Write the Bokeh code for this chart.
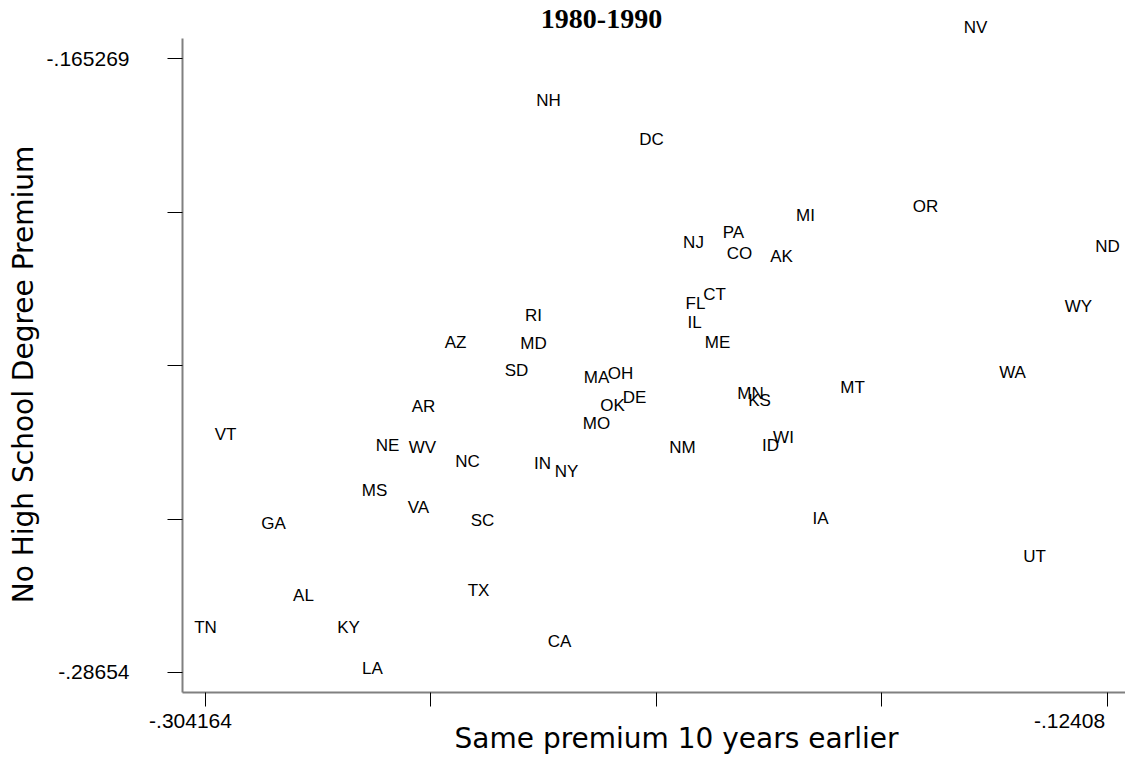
import math
from bokeh.plotting import figure
from bokeh.models import ColumnDataSource, LabelSet, Label, FixedTicker, Range1d
from bokeh.core.properties import value
from bokeh.embed import file_html
from bokeh.resources import INLINE

# ---- data ----
states = ["NV", "NH", "DC", "MI", "OR", "PA", "NJ", "CO", "AK", "ND",
          "CT", "FL", "IL", "WY", "RI", "AZ", "MD", "ME", "SD", "MA",
          "OH", "WA", "MT", "MN", "KS", "DE", "OK", "AR", "MO", "VT",
          "WI", "ID", "NE", "WV", "NM", "NC", "IN", "NY", "MS", "VA",
          "IA", "GA", "SC", "UT", "TX", "AL", "TN", "KY", "CA", "LA"]

premium_earlier = [-0.150433, -0.235684, -0.215120, -0.184374, -0.160416, -0.198749, -0.206735, -0.197551, -0.189164, -0.124080,
                   -0.202542, -0.206335, -0.206535, -0.129870, -0.238679, -0.254251, -0.238679, -0.201943, -0.242073, -0.226101,
                   -0.221309, -0.143046, -0.174990, -0.195355, -0.193558, -0.218514, -0.222906, -0.260640, -0.226101, -0.300171,
                   -0.188765, -0.191362, -0.267827, -0.260840, -0.208931, -0.251856, -0.236882, -0.232091, -0.270423, -0.261639,
                   -0.181379, -0.290587, -0.248861, -0.138654, -0.249660, -0.284598, -0.304164, -0.275614, -0.233488, -0.270822]

premium_now = [-0.159146, -0.173564, -0.181267, -0.196278, -0.194500, -0.199636, -0.201611, -0.203783, -0.204376, -0.202401,
               -0.211881, -0.213658, -0.217412, -0.214251, -0.216029, -0.221362, -0.221559, -0.221362, -0.226892, -0.228275,
               -0.227485, -0.227287, -0.230250, -0.231435, -0.232817, -0.232225, -0.233805, -0.234002, -0.237360, -0.239533,
               -0.240126, -0.241706, -0.241705, -0.242100, -0.242100, -0.244865, -0.245261, -0.246841, -0.250593, -0.253951,
               -0.256124, -0.257111, -0.256519, -0.263629, -0.270344, -0.271332, -0.277652, -0.277652, -0.280417, -0.285750]

x_ticks = [-0.304164, -0.259143, -0.214122, -0.169101, -0.124080]
x_tick_labels = ["-.304164", "", "", "", "-.12408"]
y_ticks = [-0.286540, -0.2562223, -0.2259045, -0.1955868, -0.165269]
y_tick_labels = ["-.28654", "", "", "", "-.165269"]

title_text = "1980-1990"
x_title = "Same premium 10 years earlier"
y_title = "No High School Degree Premium"

# ---- layout (plot region and axis placement) ----
W, H = 1125, 766
X_VIEW = (-0.345092, -0.120486)      # whole canvas in data units
Y_VIEW = (-0.305106, -0.153813)
X_AXIS_SPAN = (-0.308756, X_VIEW[1])  # where the axis lines run
Y_AXIS_SPAN = (-0.290490, -0.161319)

p = figure(width=W, height=H, output_backend="svg", toolbar_location=None,
           x_range=Range1d(*X_VIEW), y_range=Range1d(*Y_VIEW),
           min_border_left=0, min_border_right=0, min_border_top=0, min_border_bottom=0)
p.background_fill_color = "white"
p.border_fill_color = "white"
p.outline_line_color = None
p.grid.visible = False

xa, ya = p.xaxis[0], p.yaxis[0]
xa.fixed_location = Y_AXIS_SPAN[0]
ya.fixed_location = X_AXIS_SPAN[0]
xa.bounds = X_AXIS_SPAN
ya.bounds = Y_AXIS_SPAN

for ax, ticks, labs, tout in ((xa, x_ticks, x_tick_labels, 14), (ya, y_ticks, y_tick_labels, 15)):
    ax.ticker = FixedTicker(ticks=ticks)
    ax.major_label_overrides = {t: l for t, l in zip(ticks, labs)}
    ax.major_tick_out = tout
    ax.major_tick_in = 0
    ax.minor_tick_line_color = None
    ax.major_tick_line_color = "black"
    ax.major_tick_line_width = 1
    ax.axis_line_color = "#808080"
    ax.axis_line_width = 2
    ax.major_label_text_font = "Liberation Sans"
    ax.major_label_text_font_size = "21px"
    ax.major_label_text_color = "black"

# x tick labels are drawn separately (they sit off-centre of their ticks)
xa.major_label_text_font_size = "0px"
xa.major_label_overrides = {t: "" for t in x_ticks}
ya.major_label_standoff = 38

src = ColumnDataSource(dict(x=premium_earlier, y=premium_now, state=states))
labels = LabelSet(x="x", y="y", text="state", source=src,
                  text_align="center", text_baseline="middle",
                  text_font=value("Liberation Sans"), text_font_size=value("17px"),
                  text_color="black")
p.add_layout(labels)

x_off = {0: -15, 4: -38}
for i, (t, lab) in enumerate(zip(x_ticks, x_tick_labels)):
    if lab:
        p.add_layout(Label(x=t, y=H - 720, y_units="screen", text=lab, x_offset=x_off[i],
                           text_align="center", text_baseline="middle",
                           text_font="Liberation Sans", text_font_size="21px", text_color="black"))

# titles (screen units, origin at bottom-left of the canvas)
p.add_layout(Label(x=601, y=H - 18, x_units="screen", y_units="screen", text=title_text,
                   text_align="center", text_baseline="middle",
                   text_font="Liberation Serif", text_font_style="bold", text_font_size="28px",
                   text_color="black"))
p.add_layout(Label(x=676, y=H - 738, x_units="screen", y_units="screen", text=x_title,
                   text_align="center", text_baseline="middle",
                   text_font="DejaVu Sans", text_font_size="28px", text_color="black"))
p.add_layout(Label(x=23, y=H - 374, x_units="screen", y_units="screen", text=y_title,
                   angle=math.pi / 2, text_align="center", text_baseline="middle",
                   text_font="DejaVu Sans", text_font_size="28px", text_color="black"))

open("out.html", "w").write(file_html(p, INLINE))
